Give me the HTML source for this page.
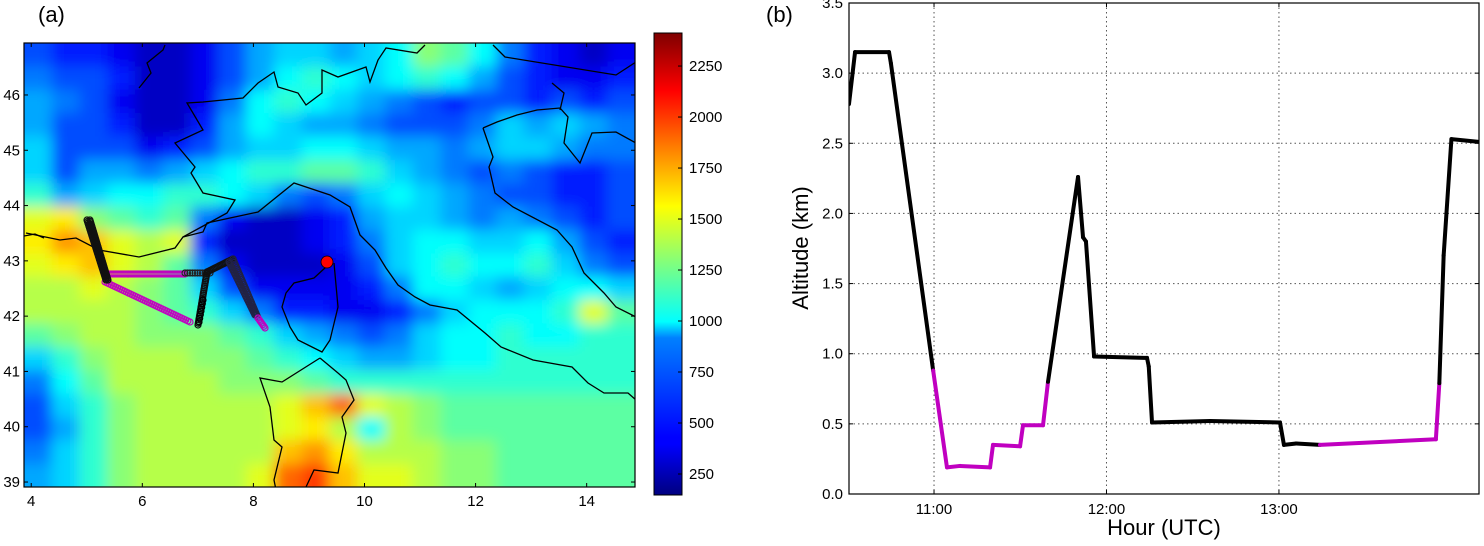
<!DOCTYPE html>
<html><head><meta charset="utf-8">
<style>
html,body{margin:0;padding:0;background:#fff;}
body{width:1484px;height:541px;overflow:hidden;font-family:"Liberation Sans",sans-serif;}
svg text{font-family:"Liberation Sans",sans-serif;}
</style></head>
<body>
<svg id="fig" width="1484" height="541" viewBox="0 0 1484 541" xmlns="http://www.w3.org/2000/svg">
<defs>
<filter id="blur" x="-5%" y="-5%" width="110%" height="110%"><feGaussianBlur stdDeviation="7"/></filter>
<clipPath id="mapclip"><rect x="24" y="43" width="611" height="444"/></clipPath>
<clipPath id="altclip"><rect x="849" y="3" width="630" height="491"/></clipPath>
<linearGradient id="jetgrad" x1="0" y1="1" x2="0" y2="0">
<stop offset="0" stop-color="#00007f"/><stop offset="0.11" stop-color="#0000ff"/><stop offset="0.125" stop-color="#0000ff"/>
<stop offset="0.34" stop-color="#0080ff"/><stop offset="0.375" stop-color="#00ffff"/><stop offset="0.5" stop-color="#7fff7f"/>
<stop offset="0.625" stop-color="#ffff00"/><stop offset="0.75" stop-color="#ff8000"/><stop offset="0.875" stop-color="#ff0000"/><stop offset="1" stop-color="#7f0000"/>
</linearGradient>
</defs>
<text x="38" y="22" font-size="22">(a)</text>
<text x="766" y="22" font-size="22">(b)</text>
<g id="map"></g>
<g id="cbar"></g>
<g id="alt"></g>
</svg>
<script>
// ---- Map heatmap data (elevation-like values in hundreds of metres, rows top->bottom) ----
const gridRows = [
[6,5,5,4,3,3,4,6,8,9,9,8,9,10,13,12,10,7,5,4,3,4],
[7,6,6,5,3,3,4,6,8,10,11,10,9,10,11,10,8,6,5,4,4,5],
[8,7,6,4,3,3,4,7,10,11,10,9,8,7,6,5,6,6,5,6,5,6],
[8,6,6,5,3,3,5,8,10,9,8,8,7,6,6,6,7,9,8,9,8,7],
[9,6,6,6,4,5,6,8,9,9,10,10,9,8,8,7,8,9,9,8,7,7],
[9,6,8,8,7,8,9,10,11,11,12,12,11,9,8,7,6,7,6,5,5,6],
[11,8,9,10,10,11,11,10,9,7,6,7,9,10,9,8,7,6,6,5,5,6],
[15,16,13,12,11,12,7,4,3,3,4,5,8,9,9,8,7,8,7,6,5,6],
[16,18,17,15,14,15,5,3,3,3,4,5,7,9,10,10,9,9,10,8,6,5],
[15,16,17,15,14,12,7,4,3,3,3,4,6,9,10,11,10,10,11,9,7,6],
[14,14,15,14,13,12,9,6,4,4,4,4,5,7,10,10,9,8,9,10,10,9],
[14,14,14,14,13,12,11,9,7,5,5,4,4,5,7,9,10,10,10,11,15,12],
[12,13,14,14,13,13,13,12,11,9,8,7,6,7,9,10,10,11,10,10,11,11],
[9,11,13,14,14,14,13,13,12,11,10,9,8,8,9,10,10,11,11,11,11,11],
[7,10,12,14,14,14,14,13,13,13,12,11,11,11,11,11,11,11,11,11,11,11],
[6,9,11,13,14,14,14,14,14,15,17,19,15,14,13,12,12,12,12,12,12,12],
[6,8,11,13,14,14,14,14,14,15,16,14,10,14,13,12,12,12,12,12,12,12],
[7,9,11,13,14,14,14,14,14,17,18,16,14,14,14,13,13,12,12,12,12,12],
[8,9,11,13,14,14,14,14,15,19,20,17,15,15,14,13,13,12,12,12,12,12]
];
const lonTicks = [4,6,8,10,12,14];
const latTicks = [39,40,41,42,43,44,45,46];
const cbarTicks = [250,500,750,1000,1250,1500,1750,2000,2250];
// ---- Altitude chart data ----
const hours = [10.507,10.542,10.739,10.75,10.995,11.075,11.15,11.325,11.342,11.499,11.516,11.632,11.661,11.835,11.864,11.881,11.928,12.235,12.245,12.264,12.6,13.006,13.029,13.1,13.238,13.91,13.93,13.955,14.0,14.16];
const altitudes = [2.78,3.15,3.15,3.07,0.88,0.19,0.20,0.19,0.35,0.34,0.49,0.49,0.80,2.26,1.83,1.80,0.98,0.97,0.91,0.51,0.52,0.51,0.35,0.36,0.35,0.39,0.79,1.70,2.53,2.51];
const segColor = [0,0,0,0,1,1,1,1,1,1,1,1,0,0,0,0,0,0,0,0,0,0,0,0,1,1,0,0,0];
const altTicks = [0.0,0.5,1.0,1.5,2.0,2.5,3.0,3.5];
const hourTicks = [11,12,13];
const hourLabels = ["11:00","12:00","13:00"];

const NS="http://www.w3.org/2000/svg";
function mk(tag,attrs,parent){const e=document.createElementNS(NS,tag);for(const k in attrs)e.setAttribute(k,attrs[k]);parent.appendChild(e);return e;}
function jet(v){
  const r=Math.min(1,Math.max(0,Math.min(4*v-1.5,-4*v+4.5)));
  const g=Math.min(1,Math.max(0,Math.min(4*v-0.5,-4*v+3.5)));
  const b=Math.min(1,Math.max(0,Math.min(4*v+0.5,-4*v+2.5)));
  return `rgb(${Math.round(r*255)},${Math.round(g*255)},${Math.round(b*255)})`;
}
const vmin=147,vmax=2412;
const mx0=24,mx1=635,my0=43,my1=487,lon0=3.87,lon1=14.87,lat0=38.91,lat1=46.94;
const lx=lon=>mx0+(lon-lon0)/(lon1-lon0)*(mx1-mx0);
const ly=lat=>my1-(lat-lat0)/(lat1-lat0)*(my1-my0);
const map=document.getElementById('map');
const heat=mk('g',{'clip-path':'url(#mapclip)'},map);
const hb=mk('g',{filter:'url(#blur)'},heat);
const nr=gridRows.length,nc=gridRows[0].length;
const cw=(mx1-mx0)/nc,ch=(my1-my0)/nr;
gridRows.forEach((row,i)=>row.forEach((v,j)=>{
  const r=mk('rect',{x:mx0+j*cw-(j==0?20:0),y:my0+i*ch-(i==0?20:0),width:cw+1+(j==0||j==nc-1?20:0),height:ch+1+(i==0||i==nr-1?20:0),fill:jet((v*100-vmin)/(vmax-vmin))},hb);
  
  
}));
const lines=[
"26,233 60,240 76,238 99,250 139,257 175,248 183,237 203,232 207,223 258,212 294,183 330,195 350,207 360,235 375,250 386,268 398,285 415,297 430,305 457,310 485,333 501,347 533,360 572,367 588,383 604,393 628,393 636,400",
"483,128 493,157 489,167 495,193 513,207 557,230 572,247 584,273 604,293 616,307 636,317",
"483,128 497,122 517,115 537,110 560,108 568,117 564,143 580,163 592,133 616,132 636,143",
"183,237 227,213 235,200 203,193 191,173 195,167 175,143 203,130 187,103 203,102 243,98 258,83 274,72 278,87 298,93 306,105 322,93 322,70 338,77 366,67 370,82 378,60 386,48 417,53 425,45",
"139,88 151,73 147,63 163,50 165,45",
"493,45 505,57 616,75 636,62",
"552,83 564,93 560,110",
"334,263 338,307 330,340 322,352 298,340 290,327 282,307 286,293 294,283 314,278 326,267",
"320,358 338,373 346,380 354,400 342,417 346,433 338,473 314,470 306,487",
"320,358 282,382 260,378 270,407 274,440 282,447 274,480 276,490",
"24,236 35,234 44,238"];
const cl=mk('g',{'clip-path':'url(#mapclip)'},map);
lines.forEach(p=>{const e=mk('polyline',{points:p,fill:'none',stroke:'#000','stroke-width':1.3},cl);
 
 });
function markersAlong(a,b,n,color,parent){for(let k=0;k<=n;k++){const t=k/n;const c=mk('circle',{cx:a[0]+(b[0]-a[0])*t,cy:a[1]+(b[1]-a[1])*t,r:3,fill:'none',stroke:color,'stroke-width':1.2},parent);
 
 }}
const tr=mk('g',{},map);


markersAlong([105,282],[190,322],40,'#c000c0',tr);
markersAlong([105,274],[185,274],40,'#c000c0',tr);
markersAlong([185,273],[210,273],10,'#222',tr);
markersAlong([87,220],[106,280],40,'#111',tr);
markersAlong([90,220],[108,280],40,'#111',tr);
markersAlong([198,325],[207,272],30,'#111',tr);
markersAlong([207,272],[233,259],20,'#111',tr);
markersAlong([233,259],[258,318],35,'#224',tr);
markersAlong([229,262],[255,315],35,'#224',tr);
markersAlong([258,318],[265,328],6,'#c000c0',tr);
markersAlong([199,322],[203,300],6,'#000',tr);
const dot=mk('circle',{cx:327,cy:262,r:6,fill:'#ff0000',stroke:'#000','stroke-width':0.8},map);


mk('rect',{x:mx0,y:my0,width:mx1-mx0,height:my1-my0,fill:'none',stroke:'#000','stroke-width':1.2},map);
lonTicks.forEach(v=>{const x=lx(v);mk('line',{x1:x,x2:x,y1:my1,y2:my1-4,stroke:'#000'},map);mk('line',{x1:x,x2:x,y1:my0,y2:my0+4,stroke:'#000'},map);
 const t=mk('text',{x:x,y:my1+19,'font-size':15,'text-anchor':'middle'},map);t.textContent=v;
 
 });
latTicks.forEach(v=>{const y=ly(v);mk('line',{x1:mx0,x2:mx0+4,y1:y,y2:y,stroke:'#000'},map);mk('line',{x1:mx1,x2:mx1-4,y1:y,y2:y,stroke:'#000'},map);
 const t=mk('text',{x:20,y:y+5,'font-size':15,'text-anchor':'end'},map);t.textContent=v;
 
 });
const cb=document.getElementById('cbar');
const cx0=654,cx1=682,cy0=33,cy1=495;
mk('rect',{x:cx0,y:cy0,width:cx1-cx0,height:cy1-cy0,fill:'url(#jetgrad)',stroke:'#000','stroke-width':1},cb);
cbarTicks.forEach(v=>{const y=cy1-(v-vmin)/(vmax-vmin)*(cy1-cy0);mk('line',{x1:cx1-4,x2:cx1,y1:y,y2:y,stroke:'#000'},cb);
 const t=mk('text',{x:689,y:y+5,'font-size':15},cb);t.textContent=v;
 
 });
const ax0=849,ax1=1479,ay0=3,ay1=494,h0=10.507,h1=14.16;
const hx=h=>ax0+(h-h0)/(h1-h0)*(ax1-ax0);
const ay=a=>ay1-a/3.5*(ay1-ay0);
const alt=document.getElementById('alt');
mk('rect',{x:ax0,y:ay0,width:ax1-ax0,height:ay1-ay0,fill:'#fff'},alt);
altTicks.forEach((v,i)=>{const y=ay(v);if(i>0&&i<altTicks.length-1)mk('line',{x1:ax0,x2:ax1,y1:y,y2:y,stroke:'#555','stroke-dasharray':'1.5,3','stroke-width':1},alt);
 mk('line',{x1:ax0,x2:ax0+4,y1:y,y2:y,stroke:'#000'},alt);mk('line',{x1:ax1,x2:ax1-4,y1:y,y2:y,stroke:'#000'},alt);
 const t=mk('text',{x:843,y:y+5,'font-size':15,'text-anchor':'end'},alt);t.textContent=v.toFixed(1);
 
 });
hourTicks.forEach((v,i)=>{const x=hx(v);mk('line',{x1:x,x2:x,y1:ay0,y2:ay1,stroke:'#555','stroke-dasharray':'1.5,3','stroke-width':1},alt);
 mk('line',{x1:x,x2:x,y1:ay1,y2:ay1-4,stroke:'#000'},alt);mk('line',{x1:x,x2:x,y1:ay0,y2:ay0+4,stroke:'#000'},alt);
 const t=mk('text',{x:x,y:ay1+20,'font-size':15,'text-anchor':'middle'},alt);t.textContent=hourLabels[i];
 
 });
const lg=mk('g',{'clip-path':'url(#altclip)'},alt);
for(let i=0;i<hours.length-1;i++){
 const s=mk('line',{x1:hx(hours[i]),y1:ay(altitudes[i]),x2:hx(hours[i+1]),y2:ay(altitudes[i+1]),stroke:segColor[i]?'#c000c0':'#000','stroke-width':4,'stroke-linecap':'round'},lg);
 
 
}
mk('rect',{x:ax0,y:ay0,width:ax1-ax0,height:ay1-ay0,fill:'none',stroke:'#000','stroke-width':1.2},alt);
const xt=mk('text',{x:(ax0+ax1)/2,y:535,'font-size':22,'text-anchor':'middle'},alt);xt.textContent='Hour (UTC)';


const yt=mk('text',{x:0,y:0,'font-size':22,'text-anchor':'middle',transform:'translate(808,248) rotate(-90)'},alt);yt.textContent='Altitude (km)';


</script>
</body></html>
